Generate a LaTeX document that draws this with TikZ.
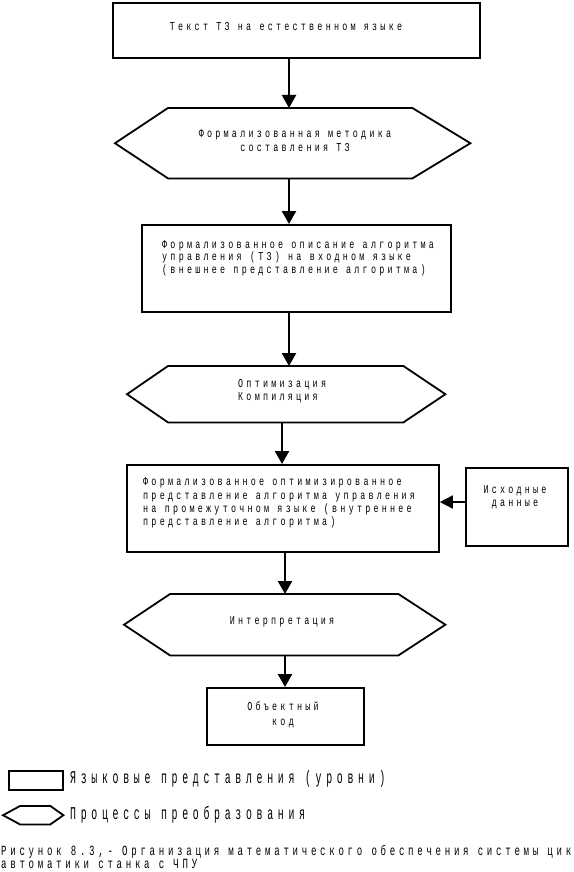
\documentclass[tikz,border=0pt]{standalone}
\usepackage{fontspec}
\usetikzlibrary{arrows.meta}
\newfontfamily\boxf[FakeStretch=0.7,LetterSpace=27]{Liberation Mono}
\newfontfamily\legf[FakeStretch=0.55,LetterSpace=26]{Liberation Mono}
\newfontfamily\capf[FakeStretch=0.65,LetterSpace=26.5]{Liberation Mono}
\tikzset{
  lvl/.style={draw, line width=1.8pt, anchor=north west, inner sep=0pt},
  area/.style={draw=none, anchor=north west, inner sep=0pt},
  proc/.style={draw, line width=1.8pt, line join=miter},
  arr/.style={line width=2.3pt, -{Triangle[width=14pt,length=13pt]}},
  arrs/.style={line width=1.6pt, -{Triangle[width=13pt,length=13pt]}},
  txt/.style={inner sep=0pt, font=\boxf\fontsize{12}{12.8}\selectfont},
  legt/.style={inner sep=0pt, anchor=west, font=\legf\fontsize{18}{18}\selectfont},
  capt/.style={inner sep=0pt, anchor=north west, align=left, font=\capf\fontsize{14}{11}\selectfont}
}
\begin{document}
\begin{tikzpicture}[x=1pt,y=-1pt]
\useasboundingbox[fill=white] (0,0) rectangle (573,872);
% level boxes
\node[lvl, minimum width=367pt, minimum height=55pt] (b1) at (112,2) {};
\node[lvl, minimum width=309pt, minimum height=87pt] (b2) at (141,224) {};
\node[lvl, minimum width=312pt, minimum height=87pt] (b3) at (126,464) {};
\node[lvl, minimum width=102pt, minimum height=78pt] (b4) at (465,467) {};
\node[lvl, minimum width=157pt, minimum height=57pt] (b5) at (206,687) {};
% process hexagons
\node[area, minimum width=355pt, minimum height=70pt] (h1) at (115,108) {};
\draw[proc] (h1.west) -- ([xshift=53pt]h1.north west) -- ([xshift=-58pt]h1.north east) -- (h1.east) -- ([xshift=-58pt]h1.south east) -- ([xshift=53pt]h1.south west) -- cycle;
\node[area, minimum width=318pt, minimum height=56pt] (h2) at (127,366) {};
\draw[proc] (h2.west) -- ([xshift=41pt]h2.north west) -- ([xshift=-42pt]h2.north east) -- (h2.east) -- ([xshift=-42pt]h2.south east) -- ([xshift=41pt]h2.south west) -- cycle;
\node[area, minimum width=321pt, minimum height=61pt] (h3) at (124,594) {};
\draw[proc] (h3.west) -- ([xshift=46pt]h3.north west) -- ([xshift=-47pt]h3.north east) -- (h3.east) -- ([xshift=-47pt]h3.south east) -- ([xshift=46pt]h3.south west) -- cycle;
% texts
\node[txt] (t1) at (286,27) {Текст ТЗ на естественном языке};
\node[txt, align=center, font=\boxf\fontsize{12}{14}\selectfont] (t2) at (295,141) {Формализованная методика\\составления ТЗ};
\node[txt, anchor=west, align=left, font=\boxf\fontsize{12}{12.5}\selectfont] (t3) at (162,258) {Формализованное описание алгоритма\\управления (ТЗ) на входном языке\\(внешнее представление алгоритма)};
\node[txt, anchor=west, align=left, font=\boxf\fontsize{12}{13}\selectfont] (t4) at (238,391) {Оптимизация\\Компиляция};
\node[txt, anchor=west, align=left, font=\boxf\fontsize{12}{13.3}\selectfont] (t5) at (143,503) {Формализованное оптимизированное\\представление алгоритма управления\\на промежуточном языке (внутреннее\\представление алгоритма)};
\node[txt, align=center, font=\boxf\fontsize{12}{13}\selectfont] (t6) at (515,497) {Исходные\\данные};
\node[txt] (t7) at (282,622) {Интерпретация};
\node[txt, align=center, font=\boxf\fontsize{12}{15}\selectfont] (t8) at (283,715) {Объектный\\код};
% connectors
\coordinate (ax1) at (289,0);
\coordinate (ax2) at (282,0);
\coordinate (ax3) at (285,0);
\draw[arr] (b1.south -| ax1) -- (h1.north -| ax1);
\draw[arr] (h1.south -| ax1) -- (b2.north -| ax1);
\draw[arr] (b2.south -| ax1) -- (h2.north -| ax1);
\draw[arr] (h2.south -| ax2) -- (b3.north -| ax2);
\draw[arr] (b3.south -| ax3) -- (h3.north -| ax3);
\draw[arr] (h3.south -| ax3) -- (b5.north -| ax3);
\coordinate (ay) at (0,502);
\draw[arrs] (b4.west |- ay) -- (b3.east |- ay);
% legend
\node[lvl, minimum width=54pt, minimum height=19pt] (lb) at (8,770) {};
\node[legt] (l1) at (70,779) {Языковые представления (уровни)};
\node[area, minimum width=60pt, minimum height=18pt] (lh) at (3,806) {};
\draw[proc] (lh.west) -- ([xshift=17pt]lh.north west) -- ([xshift=-13pt]lh.north east) -- (lh.east) -- ([xshift=-13pt]lh.south east) -- ([xshift=17pt]lh.south west) -- cycle;
\node[legt] (l2) at (70,815) {Процессы преобразования};
\node[capt] (cap) at (1,845) {Рисунок 8.3,- Организация математического обеспечения системы цик\\автоматики станка с ЧПУ};
\end{tikzpicture}
\end{document}
